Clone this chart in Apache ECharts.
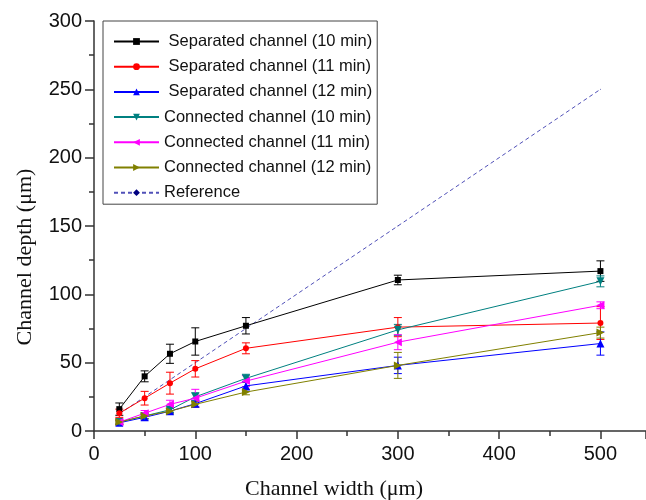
<!DOCTYPE html>
<html>
<head>
<meta charset="utf-8">
<script src="https://cdn.jsdelivr.net/npm/echarts@6/dist/echarts.min.js"></script>
<style>html,body{margin:0;padding:0;background:#fff}#c{width:646px;height:500px}</style>
</head>
<body>
<div id="c"></div>
<script>
const widths = [25, 50, 75, 100, 150, 300, 500];
const seriesNames = [
  ' Separated channel (10 min)',
  ' Separated channel (11 min)',
  ' Separated channel (12 min)',
  'Connected channel (10 min)',
  'Connected channel (11 min)',
  'Connected channel (12 min)',
  'Reference'
];
const sep10 = [16, 40, 56.5, 65.5, 77, 110.5, 117];
const sep10Err = [4.5, 4, 7, 10, 6, 3.5, 7.5];
const sep11 = [13, 24, 35, 45.5, 60.5, 76, 79];
const sep11Err = [3, 5, 8, 6, 4, 7, 12];
const sep12 = [6, 10, 14.5, 20, 33, 48, 64];
const sep12Err = [1.5, 2, 2, 2.5, 3, 6, 8.5];
const con10 = [6.5, 11, 15.5, 25, 38.5, 74, 109.5];
const con10Err = [1.5, 2, 2, 3, 3, 4, 4];
const con11 = [6.5, 13, 19.5, 24, 36.5, 65, 92];
const con11Err = [1.5, 2, 3, 6.5, 4, 5.5, 2.5];
const con12 = [6.5, 11, 14.5, 19.5, 28.5, 48, 72];
const con12Err = [1.5, 2, 2, 2, 2, 9.5, 4];
const refVals = [12.5, 25, 37.5, 50, 75, 150, 250];

const values = [sep10, sep11, sep12, con10, con11, con12];
const errors = [sep10Err, sep11Err, sep12Err, con10Err, con11Err, con12Err];
const colors = ['#000000', '#ff0000', '#0000ff', '#008080', '#ff00ff', '#808000'];
const symbols = ['rect', 'circle', 'triangle', 'path://M0,0 L10,0 L5,9 Z', 'path://M10,0 L10,10 L1,5 Z', 'path://M0,0 L0,10 L9,5 Z'];
const symSizes = [6, 6, 8, 8, 8, 8];

const series = [];
values.forEach(function (vals, i) {
  series.push({
    type: 'custom',
    silent: true,
    z: 2,
    data: widths.map(function (w, k) { return [w, vals[k], errors[i][k]]; }),
    renderItem: function (params, api) {
      const x = api.value(0), y = api.value(1), e = api.value(2);
      const top = api.coord([x, y + e]);
      const bot = api.coord([x, y - e]);
      const cw = 4;
      const st = { stroke: colors[i], lineWidth: 1 };
      return {
        type: 'group',
        children: [
          { type: 'line', shape: { x1: top[0], y1: top[1], x2: bot[0], y2: bot[1] }, style: st },
          { type: 'line', shape: { x1: top[0] - cw, y1: top[1], x2: top[0] + cw, y2: top[1] }, style: st },
          { type: 'line', shape: { x1: bot[0] - cw, y1: bot[1], x2: bot[0] + cw, y2: bot[1] }, style: st }
        ]
      };
    }
  });
  series.push({
    name: seriesNames[i],
    type: 'line',
    z: 3,
    symbol: symbols[i],
    symbolSize: symSizes[i],
    showAllSymbol: true,
    color: colors[i],
    itemStyle: { color: colors[i] },
    lineStyle: { color: colors[i], width: 1 },
    data: widths.map(function (w, k) { return [w, vals[k]]; }),
    animation: false
  });
});
series.push({
  name: seriesNames[6],
  type: 'line',
  z: 1,
  symbol: 'diamond',
  symbolSize: 1,
  color: '#000080',
  itemStyle: { color: '#000080' },
  lineStyle: { color: '#5050b8', width: 1, type: [4, 3] },
  data: widths.map(function (w, k) { return [w, refVals[k]]; }),
  animation: false
});

const chart = echarts.init(document.getElementById('c'), null, { renderer: 'canvas' });
chart.setOption({
  animation: false,
  backgroundColor: '#ffffff',
  grid: { left: 94, right: 0, top: 21, bottom: 69, containLabel: false, outerBoundsMode: 'none' },
  legend: {
    orient: 'vertical',
    left: 103,
    top: 21,
    padding: [12, 5, 3, 10],
    itemWidth: 45,
    itemHeight: 8.5,
    itemGap: 8.2,
    borderColor: '#444',
    borderWidth: 1,
    backgroundColor: '#fff',
    textStyle: { fontFamily: 'Liberation Sans, Arial, sans-serif', fontSize: 16.5, color: '#111' },
    data: seriesNames
  },
  xAxis: {
    type: 'value',
    min: 0,
    max: 545,
    interval: 100,
    name: 'Channel width (μm)',
    nameLocation: 'middle',
    nameGap: 47,
    nameTextStyle: { fontFamily: 'Liberation Serif, Times New Roman, serif', fontSize: 22, color: '#111', padding: [0, 72, 0, 0] },
    axisLine: { onZero: false, lineStyle: { color: '#333', width: 1.5 } },
    axisTick: { length: 8, lineStyle: { color: '#333', width: 1.5 } },
    minorTick: { show: true, splitNumber: 2, length: 5, lineStyle: { color: '#333', width: 1.5 } },
    axisLabel: { fontFamily: 'Liberation Sans, Arial, sans-serif', fontSize: 20, color: '#111', margin: 13, showMaxLabel: false },
    splitLine: { show: false }
  },
  yAxis: {
    type: 'value',
    min: 0,
    max: 300,
    interval: 50,
    name: 'Channel depth (μm)',
    nameLocation: 'middle',
    nameGap: 58,
    nameTextStyle: { fontFamily: 'Liberation Serif, Times New Roman, serif', fontSize: 22, color: '#111', padding: [0, 62, 0, 0] },
    axisLine: { show: true, onZero: false, lineStyle: { color: '#333', width: 1.5 } },
    axisTick: { show: true, length: 9, lineStyle: { color: '#333', width: 1.5 } },
    minorTick: { show: true, splitNumber: 2, length: 5, lineStyle: { color: '#333', width: 1.5 } },
    axisLabel: { fontFamily: 'Liberation Sans, Arial, sans-serif', fontSize: 20, color: '#111', margin: 12 },
    splitLine: { show: false }
  },
  series: series
});
</script>
</body>
</html>
